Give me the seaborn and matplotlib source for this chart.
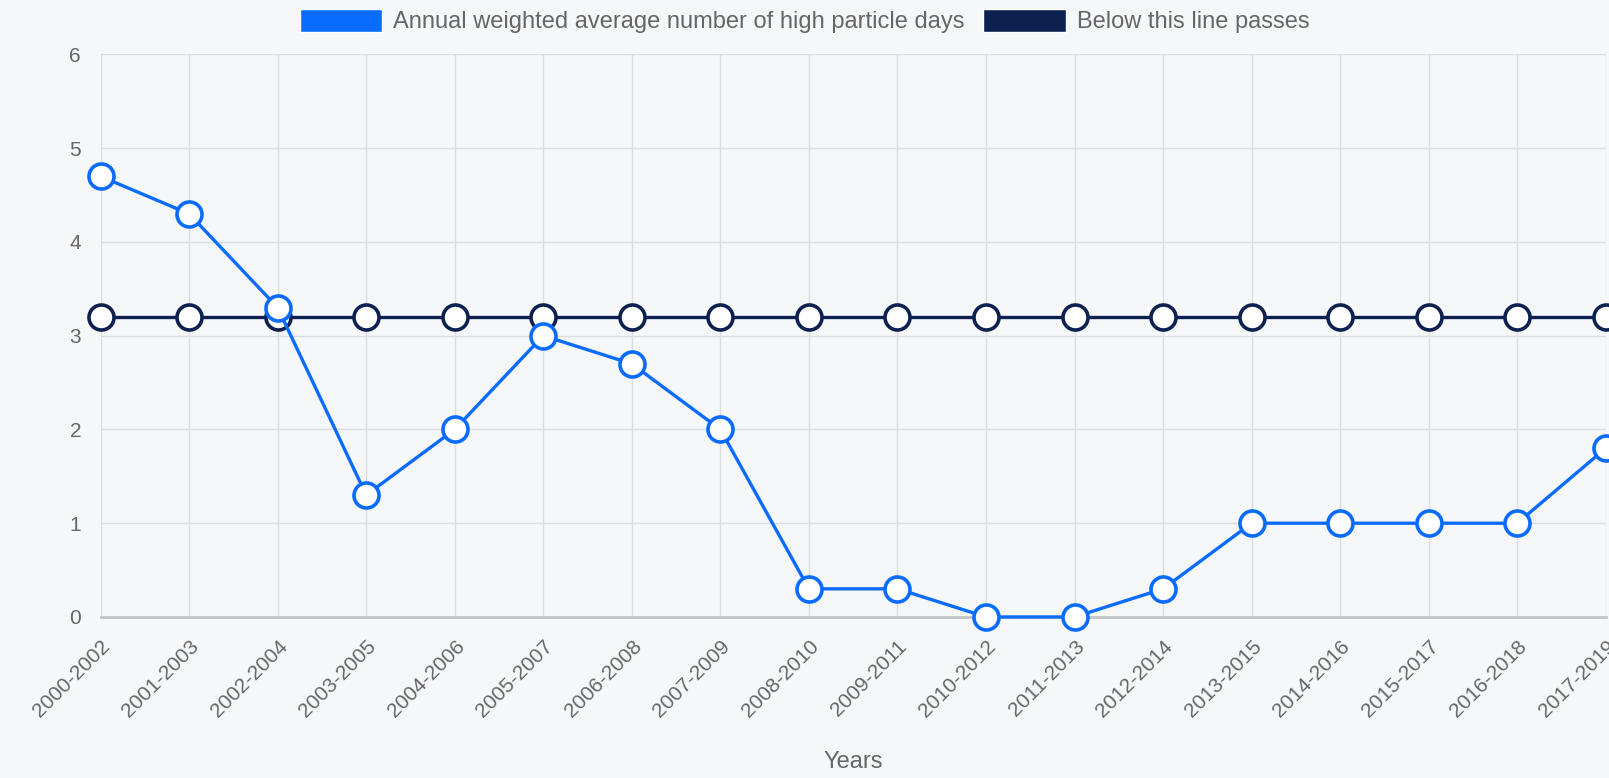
import numpy as np
import pandas as pd
import matplotlib.pyplot as plt
import seaborn as sns
from matplotlib.patches import Patch

years = ["2000-2002", "2001-2003", "2002-2004", "2003-2005", "2004-2006", "2005-2007",
         "2006-2008", "2007-2009", "2008-2010", "2009-2011", "2010-2012", "2011-2013",
         "2012-2014", "2013-2015", "2014-2016", "2015-2017", "2016-2018", "2017-2019"]
high_days = [4.7, 4.3, 3.3, 1.3, 2.0, 3.0, 2.7, 2.0, 0.3, 0.3, 0.0, 0.0, 0.3, 1.0, 1.0, 1.0, 1.0, 1.8]
pass_line = [3.2] * len(years)

blue = "#0a6cff"
navy = "#0c2150"
bg = "#f6f7f9"

df = pd.DataFrame({"pos": np.arange(len(years)), "years": years,
                   "high": high_days, "pass": pass_line})

sns.set_style("white")
plt.rcParams["font.family"] = ["Liberation Sans", "DejaVu Sans"]

fig = plt.figure(figsize=(16.09, 7.78), dpi=100, facecolor=bg)
ax = fig.add_axes([0.0625, 0.207, 0.9355, 0.723])
ax.set_facecolor(bg)

# threshold line, then the data on top
sns.lineplot(data=df, x="pos", y="pass", ax=ax, color=navy, lw=2.4, marker="o",
             markersize=18, markerfacecolor="white", markeredgecolor=navy,
             markeredgewidth=2.6, zorder=3, clip_on=False)
sns.lineplot(data=df, x="pos", y="high", ax=ax, color=blue, lw=2.4, marker="o",
             markersize=18, markerfacecolor="white", markeredgecolor=blue,
             markeredgewidth=2.6, zorder=4, clip_on=False)

ax.set_xlim(0, len(years) - 1)
ax.set_ylim(0, 6)
ax.set_xticks(df["pos"])
ax.set_xticklabels(years, rotation=45, ha="right", rotation_mode="anchor")
ax.set_yticks(range(7))
ax.tick_params(axis="both", colors="#d6d6d6", labelcolor="#666666", labelsize=15,
               length=12, width=1, pad=2)
ax.grid(True, color="#dcdde0", lw=1)
for s in ["top", "right", "left"]:
    ax.spines[s].set_visible(False)
ax.spines["bottom"].set_color("#c4c4c4")
ax.spines["bottom"].set_linewidth(2)
ax.set_ylabel("")
ax.set_xlabel("Years", fontsize=17, color="#666666")
ax.xaxis.set_label_coords(0.5, -0.258)
ax.xaxis.label.set_va("center")

handles = [Patch(facecolor=blue, label="Annual weighted average number of high particle days"),
           Patch(facecolor=navy, label="Below this line passes")]
fig.legend(handles=handles, loc="center", bbox_to_anchor=(0.5, 1 - 21 / 778), ncol=2,
           frameon=False, fontsize=17, labelcolor="#666666", handlelength=3.5,
           handleheight=1.15, handletextpad=0.45, columnspacing=0.8,
           borderpad=0, borderaxespad=0)

fig.savefig("out.png", dpi=100, facecolor=bg)
